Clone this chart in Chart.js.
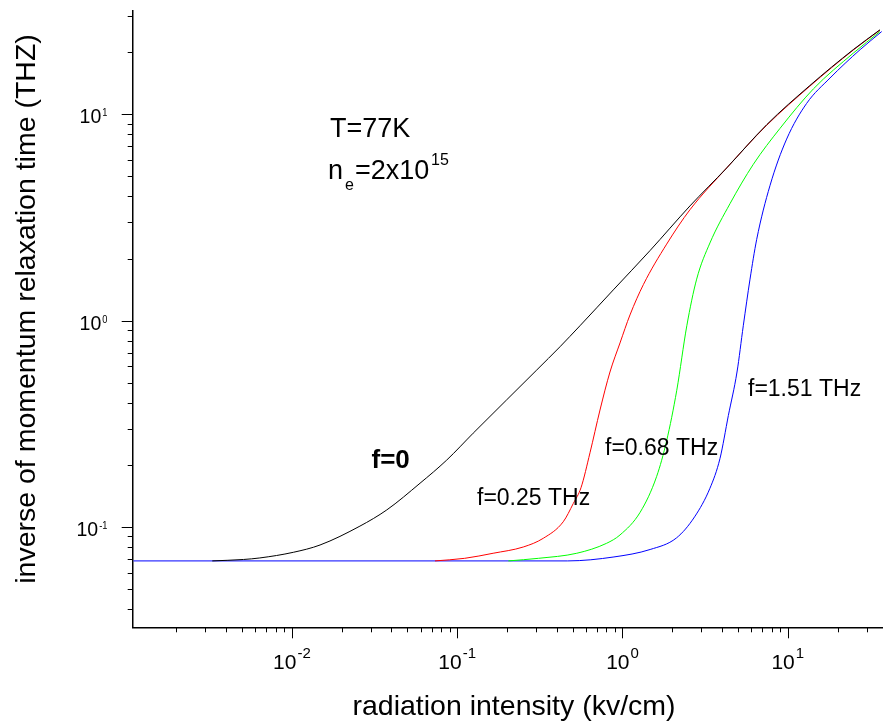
<!DOCTYPE html>
<html>
<head>
<meta charset="utf-8">
<script src="https://cdn.jsdelivr.net/npm/chart.js@4.4.1/dist/chart.umd.min.js"></script>
<style>
html,body{margin:0;padding:0;background:#fff;}
#wrap{width:883px;height:727px;position:relative;}
</style>
</head>
<body>
<div id="wrap"><canvas id="c"></canvas></div>
<script>
// ---- data ----
const f0X = [0.0033, 0.0051, 0.0064, 0.0102, 0.0148, 0.0258, 0.0375, 0.0596, 0.0864, 0.125, 0.199, 0.303, 0.419, 0.553, 0.88, 1.47, 2.56, 4.27, 7.45, 13.6, 24.9, 36.1];
const f0Y = [0.0685, 0.0696, 0.0708, 0.0754, 0.0818, 0.101, 0.121, 0.163, 0.211, 0.285, 0.413, 0.577, 0.748, 0.945, 1.41, 2.19, 3.6, 5.50, 8.91, 13.8, 20.6, 25.7];

const f025X = [0.0734, 0.111, 0.165, 0.251, 0.332, 0.438, 0.504, 0.561, 0.636, 0.731, 0.840, 0.966, 1.11, 1.34, 1.85, 2.56, 4.27, 7.45, 13.6, 24.9, 36.1];
const f025Y = [0.0685, 0.0705, 0.0746, 0.0800, 0.0882, 0.106, 0.130, 0.155, 0.229, 0.369, 0.564, 0.780, 1.066, 1.50, 2.35, 3.45, 5.50, 8.85, 13.7, 20.5, 25.6];

const f068X = [0.204, 0.310, 0.529, 0.802, 0.966, 1.28, 1.61, 1.85, 2.13, 2.45, 2.81, 3.38, 4.47, 6.19, 8.97, 14.3, 24.9, 36.1];
const f068Y = [0.0685, 0.0705, 0.0746, 0.0834, 0.0915, 0.118, 0.176, 0.262, 0.460, 0.945, 1.59, 2.38, 3.69, 5.73, 8.55, 13.3, 19.8, 25.2];

const f151X = [0.0011, 0.466, 0.888, 1.47, 2.12, 2.73, 3.38, 3.89, 4.37, 4.93, 5.38, 5.91, 6.48, 7.80, 9.84, 13.0, 18.0, 27.4, 37.0];
const f151Y = [0.0685, 0.0685, 0.0716, 0.0778, 0.0885, 0.112, 0.154, 0.215, 0.347, 0.564, 0.945, 1.59, 2.47, 4.51, 7.59, 11.3, 15.0, 20.6, 25.2];

// axis ranges
const xRange = [0.001089, 37.67];
const yRange = [0.03265, 31.7];

// ticks
const xMajorTicks = [0.01, 0.1, 1, 10];
const xTickExp = ['-2', '-1', '0', '1'];
const xMinorTicks = [0.002,0.003,0.004,0.005,0.006,0.007,0.008,0.009,
  0.02,0.03,0.04,0.05,0.06,0.07,0.08,0.09,
  0.2,0.3,0.4,0.5,0.6,0.7,0.8,0.9,
  2,3,4,5,6,7,8,9,20,30];
const yMajorTicks = [0.1, 1, 10];
const yTickExp = ['-1', '0', '1'];
const yMinorTicks = [0.04,0.05,0.06,0.07,0.08,0.09,
  0.2,0.3,0.4,0.5,0.6,0.7,0.8,0.9,
  2,3,4,5,6,7,8,9,20,30];

const xTitle = 'radiation intensity (kv/cm)';
const yTitle = 'inverse of momentum relaxation time (THZ)';
const seriesLabels = ['f=0', 'f=0.25 THz', 'f=0.68 THz', 'f=1.51 THz'];

// ---- build ----
const pts = (xs, ys) => xs.map((x, i) => ({x: x, y: ys[i]}));
const FONT = "'Liberation Sans', Arial, Helvetica, sans-serif";

function drawSup(ctx, base, exp, x, y, baseSize, expSize, expRise, align, sx) {
  ctx.font = baseSize + 'px ' + FONT;
  const wb = ctx.measureText(base).width * sx;
  ctx.font = expSize + 'px ' + FONT;
  const we = ctx.measureText(exp).width * sx;
  const total = wb + 1 + we;
  let start = x;
  if (align === 'center') start = x - total / 2;
  else if (align === 'right') start = x - total;
  ctx.save();
  ctx.textAlign = 'left';
  ctx.textBaseline = 'alphabetic';
  ctx.translate(start, y);
  ctx.scale(sx, 1);
  ctx.font = baseSize + 'px ' + FONT;
  ctx.fillText(base, 0, 0);
  ctx.font = expSize + 'px ' + FONT;
  ctx.fillText(exp, (wb + 1) / sx, -expRise);
  ctx.restore();
}

const overlay = {
  id: 'overlay',
  afterDraw(chart) {
    const ctx = chart.ctx;
    const xs = chart.scales.x, ys = chart.scales.y;
    const a = chart.chartArea;
    ctx.save();
    ctx.strokeStyle = '#000';
    ctx.lineWidth = 1;
    ctx.beginPath();
    xMinorTicks.forEach(v => { const p = Math.round(xs.getPixelForValue(v)) + 0.5; ctx.moveTo(p, a.bottom); ctx.lineTo(p, a.bottom + 5); });
    xMajorTicks.forEach(v => { const p = Math.round(xs.getPixelForValue(v)) + 0.5; ctx.moveTo(p, a.bottom); ctx.lineTo(p, a.bottom + 11); });
    yMinorTicks.forEach(v => { const p = Math.round(ys.getPixelForValue(v)) + 0.5; ctx.moveTo(a.left, p); ctx.lineTo(a.left - 5, p); });
    yMajorTicks.forEach(v => { const p = Math.round(ys.getPixelForValue(v)) + 0.5; ctx.moveTo(a.left, p); ctx.lineTo(a.left - 11, p); });
    ctx.stroke();

    ctx.fillStyle = '#000';
    // x tick labels
    xMajorTicks.forEach((v, i) => {
      const p = xs.getPixelForValue(v);
      drawSup(ctx, '10', xTickExp[i], p, 669, 21, 15, 11, 'center', 1);
    });
    // y tick labels
    yMajorTicks.forEach((v, i) => {
      const p = ys.getPixelForValue(v);
      drawSup(ctx, '10', yTickExp[i], 107.5, p + 9, 21, 10, 7, 'right', 0.93);
    });

    // axis titles
    ctx.font = '28.5px ' + FONT;
    ctx.textAlign = 'center';
    ctx.textBaseline = 'alphabetic';
    ctx.fillText(xTitle, 514, 715);
    ctx.save();
    ctx.translate(35, 309);
    ctx.rotate(-Math.PI / 2);
    ctx.fillText(yTitle, 0, 0);
    ctx.restore();

    // annotations
    ctx.textAlign = 'left';
    ctx.font = '27px ' + FONT;
    ctx.fillText('T=77K', 330, 137);
    ctx.fillText('n', 328, 179);
    ctx.fillText('=2x10', 355, 179);
    ctx.font = '16px ' + FONT;
    ctx.fillText('e', 345, 190);
    ctx.fillText('15', 431, 165);

    ctx.font = 'bold 26px ' + FONT;
    ctx.fillText(seriesLabels[0], 371.5, 468);
    ctx.font = '23px ' + FONT;
    ctx.fillText(seriesLabels[1], 477, 505);
    ctx.fillText(seriesLabels[2], 605, 455);
    ctx.fillText(seriesLabels[3], 748, 396);
    ctx.restore();
  }
};

const mkSet = (label, data, color) => ({
  label: label, data: data, borderColor: color, backgroundColor: color,
  borderWidth: 1, pointRadius: 0, showLine: true, fill: false,
  cubicInterpolationMode: 'monotone'
});

new Chart(document.getElementById('c'), {
  type: 'scatter',
  data: {
    datasets: [
      mkSet(seriesLabels[0], pts(f0X, f0Y), '#000000'),
      mkSet(seriesLabels[1], pts(f025X, f025Y), '#ff0000'),
      mkSet(seriesLabels[2], pts(f068X, f068Y), '#00ff00'),
      mkSet(seriesLabels[3], pts(f151X, f151Y), '#0000ff')
    ]
  },
  options: {
    responsive: true,
    maintainAspectRatio: false,
    animation: false,
    devicePixelRatio: 1,
    layout: {padding: {top: 11, right: 0, bottom: 0, left: 0}},
    plugins: {legend: {display: false}, tooltip: {enabled: false}},
    scales: {
      x: {
        type: 'logarithmic', min: xRange[0], max: xRange[1],
        grid: {display: false},
        border: {display: true, color: '#000', width: 1.5},
        ticks: {display: false},
        afterFit(s) { s.height = 99.7; }
      },
      y: {
        type: 'logarithmic', min: yRange[0], max: yRange[1],
        grid: {display: false},
        border: {display: true, color: '#000', width: 1.5},
        ticks: {display: false},
        afterFit(s) { s.width = 132.7; }
      }
    }
  },
  plugins: [overlay]
});
</script>
</body>
</html>
